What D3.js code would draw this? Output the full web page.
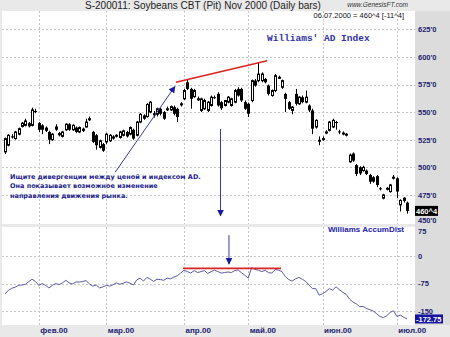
<!DOCTYPE html>
<html>
<head>
<meta charset="utf-8">
<script src="https://cdn.jsdelivr.net/npm/d3@7"></script>
<style>
  html, body { margin: 0; padding: 0; background: #e9e9e9; }
  svg { display: block; }
</style>
</head>
<body>
<svg id="chart" width="450" height="337"></svg>
<script>
// Soybeans CBT (Pit) Nov 2000 daily bars, 18.01.2000 - 06.07.2000
const opens = [514,520,528,526,530,537,538,540,538,551, 540,538,536,532,525,537,531,528,534,539,
  534,536,532,535,536.5,543,532,529,518,521, 523,524,528,529,527,529,532,530,534,529,
  541,547,546,550,549,548,553,550,553,552, 554.5,553,557,562,577,571,564,562,551.5,553,
  551.5,556,563.5,566.5,559,556,559,556,559,571, 571,559,557.5,560.5,578.5,578.5,578.5,580,574,565,
  569.5,581.5,572.5,566.5,559,551.5,566.5,557.5,563.5,559, 556,551.5,536.5,524,526,531,533.5,536.5,541,532.5,
  531,530,505,512.5,502,500,497,497,493,491, 492,481,472,481,478,491,490,466,470,468];
const highs = [527,530,530,533,536,541,544,541,554,553, 541,539,537,533,531,539,532,533,540,540,
  539,537,537,536,544,546,533,530,525,522, 531,530,529,530,533,534,533,537,535,542,
  549,548,558,560,551,554,554,551,555,556, 556,554,559,571,580,572,571,564,563,562,
  560,565,565,568,560,561,564.5,563,571,572.5, 572,560.5,558.5,579.5,580,595,586,581,575,570.5,
  584.5,583,579.5,567.5,560,555.5,571,564.5,565,569.5, 557,553,543.5,528,528,533.5,542,544,542,534,
  532.5,531,512.5,513.5,503,501,501.5,498,494,492, 493,482,476,482,485,493,491,471,473,469];
const lows = [512,519,526,525,529,536,537,536,537,549, 532,530,532,521,524,533,528,527,533,533,
  533,531,531,532,536,542,522,516,517,514, 521,523,525,527,526,528,527,529,525,528,
  540,543,545,549,545,546,547,543,551,551, 547,541,555,561,570,553,563,560,550,552,
  550,555,562,555,552,555,558,555,558,564, 559,552,545.5,559,573,577,577,576,565,564,
  568,580,571,550,552,548,556,556.5,558,558, 550,530,535,520,524,530,532.5,535.5,534,530,
  529,528,504,505,492,493,496,493,485,486, 482,479,471,479,477,489,472,460,468,458];
const closes = [526,529,527,532,535,540,542,537,552,550, 534,534,533,525,530,534,529,532,539,534,
  538,532,536,533,541,544,523,520,524,515, 530,529,526,529,532,533,528,536,526,541,
  548,544,557,559,547,553,548.5,544,553,555, 548.5,545.5,557.5,569.5,571,562,569.5,562,562,560.5,
  559,563.5,563,556,553.5,560.5,563.5,562,569.5,565, 560.5,553,548.5,578.5,574,584.5,584.5,577,566.5,569.5,
  583,581.5,578.5,562,553,554.5,557.5,563.5,559,563.5, 551.5,535,542.5,524.5,526,532,541,542.5,540.5,532,
  531,530,511,506,494,494.5,500,494,487,487, 484,480.5,475,481,484,491,478,470,472,460.5];

// Williams Accumulation/Distribution, same bars
const accumDist = [-103,-94,-88,-85,-80,-79,-77,-70,-63,-69, -80,-75,-80,-87,-80,-75,-78,-73,-66,-73,
  -76,-70.5,-71,-69,-67,-76,-82,-79,-87,-84, -80,-82,-78,-73,-77,-74,-70.5,-74,-79,-65,
  -60,-68,-58,-63,-69,-63,-64,-66,-60,-62, -57,-53.5,-46,-38,-42,-46,-39,-44.6,-42,-39,
  -47,-42,-38,-42,-46,-44.6,-43,-44.6,-39,-37.5, -45,-52,-60,-31,-36,-38,-42,-38,-45,-46,
  -36,-38,-42,-56,-64,-68,-62,-58,-63,-69, -79,-89,-89,-107,-103,-97,-89,-93,-84,-92,
  -99,-105,-118,-126,-131,-139,-138,-144,-147,-151, -158,-166,-169,-164,-155,-150,-166,-162,-168,-172.75];

// Month boundaries (bar index) and their labels
const monthIndex = [10, 30, 53, 72, 94, 116];
const monthLabels = ["фев.00", "мар.00", "апр.00", "май.00", "июн.00", "июл.00"];

// Axis ticks
const priceTicks = [450, 475, 500, 525, 550, 575, 600, 625];
const priceTickLabels = ["450'0", "475'0", "500'0", "525'0", "550'0", "575'0", "600'0", "625'0"];
const adTicks = [-150, -75, 0, 75];
const adTickLabels = ["-150", "-75", "0", "75"];

// Divergence lines: [barIndex, value] endpoints
const priceDivergence = [[50.6, 577], [77.6, 596.6]];
const adDivergence = [[52.7, -33], [81.7, -33]];

// Annotation arrows: [barIndex, value] from -> to
const priceArrows = [
  [[32.6, 495.5], [50.3, 573.2]],
  [[63.8, 534.7], [63.8, 456]]
];
const adArrows = [
  [[66.3, 59], [66.3, -21]]
];

const noteLines = [
  "Ищите дивергенции между ценой и индексом AD.",
  "Она показывает возможное изменение",
  "направления движения рынка."
];

const svg = d3.select("#chart");
const W = 450, H = 337;

const plotLeft = 2, plotRight = 415;
const upper = { top: 11, bottom: 224 };
const lower = { top: 227, bottom: 325 };

const x = d3.scaleLinear().domain([0, closes.length - 1]).range([5, 407]);
const yP = d3.scaleLinear().domain([450, 625]).range([222.5, 29.3]);
const yA = d3.scaleLinear().domain([-150, 75]).range([310.7, 229.3]);

const navy = "#1c1c70";
const gridColor = "#c4c4c4";

// background and right axis strip
svg.append("rect").attr("x", 0).attr("y", 0).attr("width", W).attr("height", H).attr("fill", "#e9e9e9");
svg.append("rect").attr("x", plotRight).attr("y", upper.top).attr("width", W - plotRight).attr("height", lower.bottom - upper.top).attr("fill", "#dcdcdc");

// plot panels
[upper, lower].forEach(p => {
  svg.append("rect")
    .attr("x", plotLeft).attr("y", p.top)
    .attr("width", plotRight - plotLeft).attr("height", p.bottom - p.top)
    .attr("fill", "#ffffff");
});

const snap = v => Math.round(v) + 0.5;

// grid lines
const grid = svg.append("g").attr("stroke", gridColor).attr("stroke-width", 1).attr("stroke-dasharray", "2,2");
[upper, lower].forEach(p => {
  grid.selectAll(null).data(monthIndex).enter().append("line")
    .attr("x1", d => snap(x(d))).attr("x2", d => snap(x(d)))
    .attr("y1", p.top).attr("y2", p.bottom);
});
grid.selectAll(null).data(priceTicks.filter(d => d > 450)).enter().append("line")
  .attr("x1", plotLeft).attr("x2", plotRight)
  .attr("y1", d => snap(yP(d))).attr("y2", d => snap(yP(d)));
grid.selectAll(null).data(adTicks.filter(d => d < 75)).enter().append("line")
  .attr("x1", plotLeft).attr("x2", plotRight)
  .attr("y1", d => snap(yA(d))).attr("y2", d => snap(yA(d)));

// candlesticks
const bars = svg.append("g");
closes.forEach((c, i) => {
  const o = opens[i], h = highs[i], l = lows[i];
  const cx = Math.round(x(i));
  bars.append("line")
    .attr("x1", cx + 0.5).attr("x2", cx + 0.5)
    .attr("y1", yP(h)).attr("y2", yP(l))
    .attr("stroke", "#000").attr("stroke-width", 1);
  const top = yP(Math.max(o, c)), bot = yP(Math.min(o, c));
  const hgt = Math.max(1, bot - top);
  if (c >= o) {
    bars.append("rect")
      .attr("x", cx - 0.5).attr("y", top).attr("width", 2).attr("height", hgt)
      .attr("fill", "#fff").attr("stroke", "#000").attr("stroke-width", 1);
  } else {
    bars.append("rect")
      .attr("x", cx - 1).attr("y", top).attr("width", 3).attr("height", hgt)
      .attr("fill", "#000");
  }
});

// accumulation / distribution line
svg.append("path")
  .datum(accumDist)
  .attr("fill", "none")
  .attr("stroke", "#5a5aa8")
  .attr("stroke-width", 1)
  .attr("d", d3.line().x((d, i) => x(i)).y(d => yA(d)));

// divergence lines
const red = "#dd2222";
svg.append("line")
  .attr("x1", x(priceDivergence[0][0])).attr("y1", yP(priceDivergence[0][1]))
  .attr("x2", x(priceDivergence[1][0])).attr("y2", yP(priceDivergence[1][1]))
  .attr("stroke", red).attr("stroke-width", 1.6);
svg.append("line")
  .attr("x1", x(adDivergence[0][0])).attr("y1", yA(adDivergence[0][1]))
  .attr("x2", x(adDivergence[1][0])).attr("y2", yA(adDivergence[1][1]))
  .attr("stroke", red).attr("stroke-width", 1.6);

// arrows
const defs = svg.append("defs");
defs.append("marker")
  .attr("id", "head").attr("viewBox", "0 0 10 10")
  .attr("refX", 9).attr("refY", 5)
  .attr("markerWidth", 7).attr("markerHeight", 7)
  .attr("markerUnits", "userSpaceOnUse")
  .attr("orient", "auto")
  .append("path").attr("d", "M0,0 L10,5 L0,10 Z").attr("fill", "#1a1aa0");

const arrowColor = "#3a3a96";
priceArrows.forEach(a => {
  svg.append("line")
    .attr("x1", x(a[0][0])).attr("y1", yP(a[0][1]))
    .attr("x2", x(a[1][0])).attr("y2", yP(a[1][1]))
    .attr("stroke", arrowColor).attr("stroke-width", 1)
    .attr("marker-end", "url(#head)");
});
adArrows.forEach(a => {
  svg.append("line")
    .attr("x1", x(a[0][0])).attr("y1", yA(a[0][1]))
    .attr("x2", x(a[1][0])).attr("y2", yA(a[1][1]))
    .attr("stroke", arrowColor).attr("stroke-width", 1)
    .attr("marker-end", "url(#head)");
});

// note text
const note = svg.append("text")
  .attr("font-family", "'DejaVu Sans', Verdana, sans-serif")
  .attr("font-size", 6.5)
  .attr("font-weight", "bold")
  .attr("fill", "#22228a");
noteLines.forEach((t, i) => {
  note.append("tspan").attr("x", 10).attr("y", 179 + i * 9.3).text(t);
});

// panel titles
svg.append("text")
  .attr("x", 267).attr("y", 41)
  .attr("font-family", "'Liberation Mono', 'Courier New', monospace")
  .attr("font-size", 9.5).attr("font-weight", "bold")
  .attr("fill", "#3030a8")
  .text("Williams' AD Index");
svg.append("text")
  .attr("x", 404).attr("y", 232).attr("text-anchor", "end")
  .attr("font-family", "'Liberation Sans', Arial, sans-serif")
  .attr("font-size", 8).attr("font-weight", "bold")
  .attr("fill", "#2222aa")
  .text("Williams AccumDist");

// header
svg.append("text")
  .attr("x", 203).attr("y", 9).attr("text-anchor", "middle")
  .attr("font-family", "'Liberation Sans', Arial, sans-serif")
  .attr("font-size", 10).attr("fill", "#222")
  .text("S-200011:  Soybeans CBT (Pit) Nov 2000  (Daily bars)");
svg.append("text")
  .attr("x", 408).attr("y", 7).attr("text-anchor", "end")
  .attr("font-family", "'Liberation Sans', Arial, sans-serif")
  .attr("font-size", 6.5).attr("font-style", "italic").attr("fill", "#333")
  .text("www.GenesisFT.com");
svg.append("text")
  .attr("x", 404).attr("y", 18).attr("text-anchor", "end")
  .attr("font-family", "'Liberation Sans', Arial, sans-serif")
  .attr("font-size", 7.5).attr("fill", "#111")
  .text("06.07.2000 = 460^4 [-11^4]");

// right axes
const axisFont = "'Liberation Sans', Arial, sans-serif";
const axP = d3.axisRight(yP).tickValues(priceTicks).tickSize(0).tickPadding(0)
  .tickFormat((d, i) => priceTickLabels[i]);
svg.append("g").attr("transform", `translate(418,0)`).call(axP)
  .call(g => g.select(".domain").remove())
  .call(g => g.selectAll("text").attr("font-family", axisFont).attr("font-size", 7.5)
    .attr("font-weight", "bold").attr("fill", navy)
    .attr("dy", d => d === 450 ? "0.05em" : "0.32em"));
const axA = d3.axisRight(yA).tickValues(adTicks).tickSize(0).tickPadding(0)
  .tickFormat((d, i) => adTickLabels[i]);
svg.append("g").attr("transform", `translate(418,0)`).call(axA)
  .call(g => g.select(".domain").remove())
  .call(g => g.selectAll("text").attr("font-family", axisFont).attr("font-size", 7.5)
    .attr("font-weight", "bold").attr("fill", navy)
    .attr("dy", d => d === 75 ? "0.6em" : "0.32em"));

// last value tags
const lastClose = closes[closes.length - 1];
const lastAD = accumDist[accumDist.length - 1];
const fmtPrice = v => Math.floor(v) + "^" + Math.round((v - Math.floor(v)) * 8);
svg.append("rect").attr("x", 415).attr("y", yP(lastClose) - 5).attr("width", 23).attr("height", 10).attr("fill", "#000");
svg.append("text").attr("x", 416).attr("y", yP(lastClose) + 3)
  .attr("font-family", axisFont).attr("font-size", 7.5).attr("font-weight", "bold").attr("fill", "#fff")
  .text(fmtPrice(lastClose));
svg.append("rect").attr("x", 415).attr("y", yA(lastAD) - 4.5).attr("width", 28).attr("height", 9).attr("fill", "#1414a0");
svg.append("text").attr("x", 416).attr("y", yA(lastAD) + 3)
  .attr("font-family", axisFont).attr("font-size", 7.5).attr("font-weight", "bold").attr("fill", "#fff")
  .text(lastAD.toFixed(2));

// bottom axis (month labels start at the boundary)
const axX = d3.axisBottom(x).tickValues(monthIndex).tickSize(0).tickPadding(0)
  .tickFormat((d, i) => monthLabels[i]);
svg.append("g").attr("transform", `translate(0,327)`).call(axX)
  .call(g => g.select(".domain").remove())
  .call(g => g.selectAll("text").attr("text-anchor", "start").attr("dx", 1)
    .attr("font-family", axisFont).attr("font-size", 8)
    .attr("font-weight", "bold").attr("fill", navy));
</script>
</body>
</html>
